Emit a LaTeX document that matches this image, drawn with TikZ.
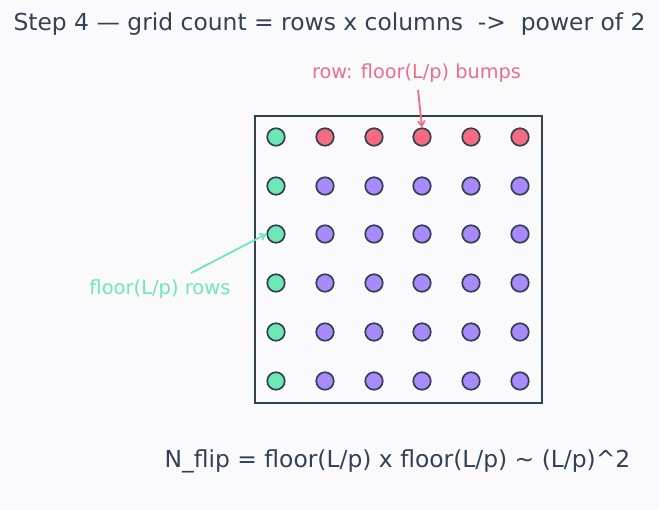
\documentclass[tikz,border=0pt]{standalone}
\usepackage{fontspec}
\setmainfont{DejaVu Sans}
\usetikzlibrary{arrows.meta}
\definecolor{bg}{HTML}{FAFAFD}
\definecolor{ink}{HTML}{334155}
\definecolor{gfill}{HTML}{6EE7B7}
\definecolor{rfill}{HTML}{F76B80}
\definecolor{pfill}{HTML}{A78BFA}
\definecolor{rtext}{HTML}{EE6F85}
\definecolor{gtext}{HTML}{6EE7B7}
\tikzset{
  dot/.style={circle,draw=ink,line width=1.7pt,minimum size=17.5pt,inner sep=0pt},
  gdot/.style={dot,fill=gfill},
  rdot/.style={dot,fill=rfill},
  pdot/.style={dot,fill=pfill},
  lbl/.style={inner sep=0pt,anchor=center},
}
\begin{document}
\begin{tikzpicture}[x=1pt,y=-1pt]
\fill[bg] (0,0) rectangle (659,510);
\useasboundingbox (0,0) rectangle (659,510);
\node[lbl,text=ink,font=\fontsize{23.4}{28}\selectfont] (title) at (329.5,24) {Step 4 — grid count = rows x columns\ \ ->\ \ power of 2};
\node[draw=ink,line width=2.8pt,minimum width=287pt,minimum height=287pt,inner sep=0pt] (box) at (398.5,259.5) {};
\foreach \c/\x in {1/276,2/325,3/374,4/422,5/471,6/520}{
  \foreach \r/\y in {1/137,2/186,3/234,4/283,5/332,6/381}{
    \ifnum\c=1
      \node[gdot] (d\r\c) at (\x,\y) {};
    \else
      \ifnum\r=1
        \node[rdot] (d\r\c) at (\x,\y) {};
      \else
        \node[pdot] (d\r\c) at (\x,\y) {};
      \fi
    \fi
  }
}
\node[lbl,text=rtext,font=\fontsize{19.3}{23}\selectfont] (rl) at (416.5,73) {row: floor(L/p) bumps};
\draw[rtext,line width=1.8pt,-{Straight Barb[length=5pt,width=7pt]}] (418,90) -- (d14.north);
\node[lbl,text=gtext,font=\fontsize{19.5}{23}\selectfont] (gl) at (160,289) {floor(L/p) rows};
\coordinate (gs) at (191,273);
\draw[gtext,line width=1.8pt,-{Straight Barb[length=5pt,width=7pt]}] (gs) -- (d31.west);
\node[lbl,text=ink,font=\fontsize{23.4}{28}\selectfont] (formula) at (397.5,461) {N\_flip = floor(L/p) x floor(L/p) \textasciitilde{} (L/p)\textasciicircum{}2};
\end{tikzpicture}
\end{document}
